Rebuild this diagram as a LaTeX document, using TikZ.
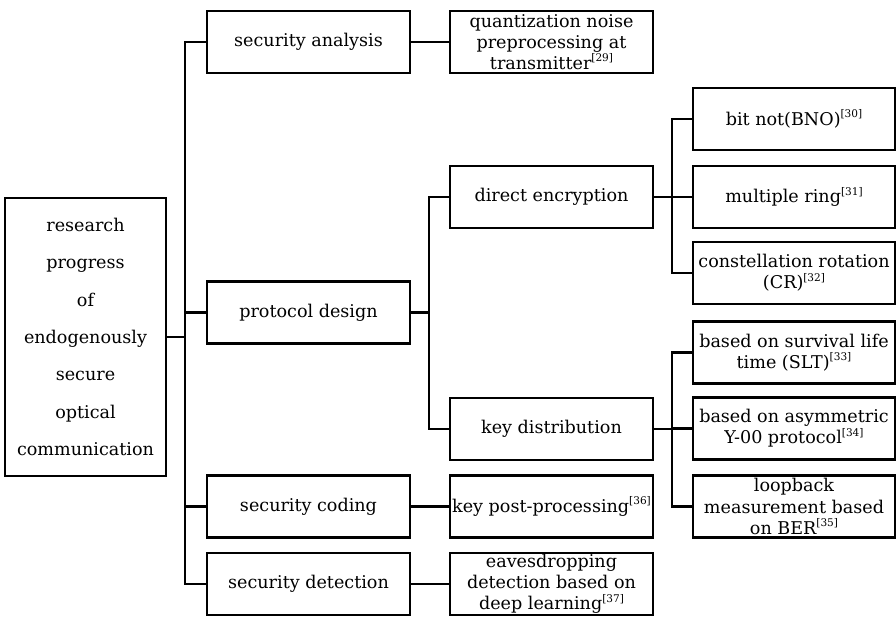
\documentclass[tikz,border=0pt]{standalone}
\usepackage{fontspec}
\setmainfont{DejaVu Serif}
\usepackage{tikz}
\usetikzlibrary{positioning}
\newcommand{\refmark}[1]{\raisebox{0.85ex}{\fontsize{6}{6}\selectfont[#1]}}

\begin{document}
\begin{tikzpicture}[x=0.02cm, y=-0.02cm,
  box/.style={draw, line width=1.5pt, align=center, inner sep=0.5pt, font=\fontsize{10}{12}\selectfont},
  midbox/.style={box, minimum width=4.06cm, minimum height=1.24cm},
  leafbox/.style={box, minimum width=4.04cm, minimum height=1.24cm},
  link/.style={line width=1.2pt}]
  \useasboundingbox (0,0) rectangle (896,618);

  % Root
  \node[box, minimum width=3.22cm, minimum height=5.56cm, font=\fontsize{10}{21.3}\selectfont] (root) at (85.5,337) {research\\progress\\of\\endogenously\\secure\\optical\\communication};

  % First level
  \node[midbox] (sa) at (308.5,42) {security analysis};
  \node[midbox] (pd) at (308.5,312.5) {protocol design};
  \node[midbox] (sc) at (308.5,506.5) {security coding};
  \node[midbox] (sd) at (308.5,584) {security detection};

  % Second level
  \node[midbox] (qn) at (551.5,42) {quantization noise\\preprocessing at\\transmitter\refmark{29}};
  \node[midbox] (de) at (551.5,197) {direct encryption};
  \node[midbox] (kd) at (551.5,429) {key distribution};
  \node[midbox] (kp) at (551.5,506.5) {key post-processing\refmark{36}};
  \node[midbox] (ed) at (551.5,584) {eavesdropping\\detection based on\\deep learning\refmark{37}};

  % Leaves
  \node[leafbox] (bn) at (794,119) {bit not(BNO)\refmark{30}};
  \node[leafbox] (mr) at (794,197) {multiple ring\refmark{31}};
  \node[leafbox] (cr) at (794,273) {constellation rotation\\(CR)\refmark{32}};
  \node[leafbox] (sl) at (794,352.5) {based on survival life\\time (SLT)\refmark{33}};
  \node[leafbox] (ay) at (794,428.5) {based on asymmetric\\Y-00 protocol\refmark{34}};
  \node[leafbox] (lb) at (794,506.5) {loopback\\measurement based\\on BER\refmark{35}};

  % Connectors
  \foreach \n in {sa,pd,sc,sd}
    \draw[link] (\n.west) -- ++(-21,0) |- (root.east);
  \draw[link] (sa) -- (qn);
  \draw[link] (sc) -- (kp);
  \draw[link] (sd) -- (ed);
  \foreach \n in {de,kd}
    \draw[link] (\n.west) -- ++(-20,0) |- (pd.east);
  \foreach \n in {bn,mr,cr}
    \draw[link] (\n.west) -- ++(-20,0) |- (de.east);
  \foreach \n in {sl,ay,lb}
    \draw[link] (\n.west) -- ++(-20,0) |- (kd.east);
\end{tikzpicture}
\end{document}
